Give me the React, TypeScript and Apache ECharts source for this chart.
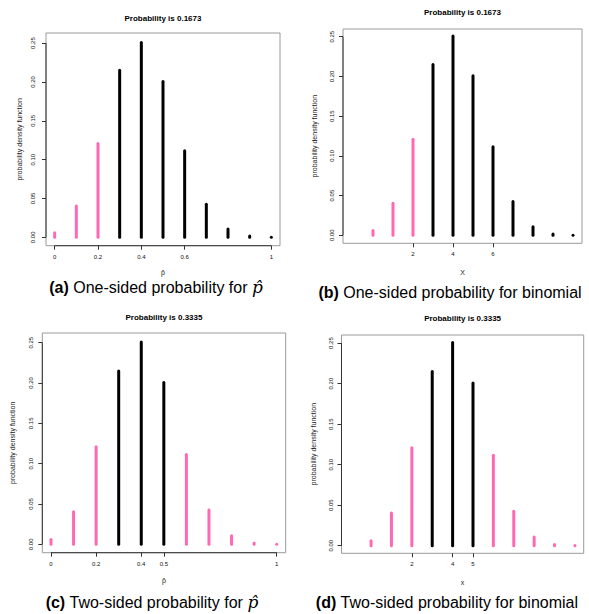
import React, { useEffect, useRef } from "react";
import * as echarts from "echarts";

// ---- data ----
const counts = [0, 1, 2, 3, 4, 5, 6, 7, 8, 9, 10];
const proportions = [0, 0.1, 0.2, 0.3, 0.4, 0.5, 0.6, 0.7, 0.8, 0.9, 1];
const probabilities = [0.006, 0.0403, 0.1209, 0.215, 0.2508, 0.2007, 0.1115, 0.0425, 0.0106, 0.0016, 0.0001];
const oneSidedTail = [true, true, true, false, false, false, false, false, false, false, false];
const twoSidedTail = [true, true, true, false, false, false, true, true, true, true, true];
const yTicks = [0, 0.05, 0.1, 0.15, 0.2, 0.25];
const xTicksA = [0, 0.2, 0.4, 0.6, 1];
const xTicksB = [2, 4, 6];
const xTicksC = [0, 0.2, 0.4, 0.5, 1];
const xTicksD = [2, 4, 5];
const panelTitles = ["Probability is 0.1673", "Probability is 0.1673", "Probability is 0.3335", "Probability is 0.3335"];
const xNames = ["p\u0302", "X", "p\u0302", "x"];
const captionTags = ["(a)", "(b)", "(c)", "(d)"];
const captionTexts = [" One-sided probability for ", " One-sided probability for binomial", " Two-sided probability for ", " Two-sided probability for binomial"];
const captionHat = [true, false, true, false];

const PINK = "#ff69b4";
const FONT = "Liberation Sans";

const panels = [
  { xs: proportions, tail: oneSidedTail, xTicks: xTicksA, darkX: true, left: 46, top: 33, width: 234, height: 212.7, xMin: -0.04, xMax: 1.04, yMin: -0.0108, yMax: 0.263, titleY: 18, capX: 156, capY: 287, yNameGap: 23, yLabMargin: 10, xNameGap: 23 },
  { xs: counts, tail: oneSidedTail, xTicks: xTicksB, darkX: false, left: 343, top: 29, width: 239, height: 214.3, xMin: -1.5, xMax: 10.45, yMin: -0.0101, yMax: 0.2597, titleY: 12, capX: 450, capY: 292, yNameGap: 25, yLabMargin: 8, xNameGap: 26 },
  { xs: proportions, tail: twoSidedTail, xTicks: xTicksC, darkX: true, left: 42.3, top: 333, width: 243.4, height: 219.7, xMin: -0.0385, xMax: 1.04, yMin: -0.0104, yMax: 0.262, titleY: 317, capX: 152, capY: 602, yNameGap: 26, yLabMargin: 8, xNameGap: 24 },
  { xs: counts, tail: twoSidedTail, xTicks: xTicksD, darkX: false, left: 341.5, top: 335, width: 242.2, height: 218.3, xMin: -1.45, xMax: 10.43, yMin: -0.0094, yMax: 0.26, titleY: 318, capX: 447, capY: 602, yNameGap: 25, yLabMargin: 8, xNameGap: 26 },
];

export default function App() {
  const ref = useRef<HTMLDivElement>(null);
  useEffect(() => {
    if (!ref.current) return;
    const chart = echarts.init(ref.current, undefined, { renderer: "svg" });
    const grid: any[] = [];
    const xAxis: any[] = [];
    const yAxis: any[] = [];
    const series: any[] = [];
    const graphic: any[] = [];
    panels.forEach((p, i) => {
      grid.push({ left: p.left, top: p.top, width: p.width, height: p.height, show: true, borderColor: "#9a9a9a", borderWidth: 1, backgroundColor: "transparent" });
      xAxis.push({
        gridIndex: i, type: "value", min: p.xMin, max: p.xMax, position: "bottom",
        axisLine: { show: false, onZero: false }, splitLine: { show: false },
        axisTick: { show: true, length: 4, customValues: p.xTicks, lineStyle: { color: "#333", width: 1 } },
        axisLabel: { customValues: p.xTicks, formatter: (v: number) => String(v), fontSize: 6, margin: 8, color: "#111", fontFamily: FONT },
        name: xNames[i], nameLocation: "middle", nameGap: p.xNameGap,
        nameTextStyle: { fontSize: 7, color: "#222", fontFamily: FONT },
      });
      yAxis.push({
        gridIndex: i, type: "value", min: p.yMin, max: p.yMax, position: "left",
        axisLine: { show: false, onZero: false }, splitLine: { show: false },
        axisTick: { show: true, length: 4, customValues: yTicks, lineStyle: { color: "#333", width: 1 } },
        axisLabel: { customValues: yTicks, rotate: 90, formatter: (v: number) => v.toFixed(2), fontSize: 6, margin: p.yLabMargin, color: "#111", fontFamily: FONT },
        name: "probability density function", nameLocation: "middle", nameRotate: 90, nameGap: p.yNameGap,
        nameTextStyle: { fontSize: 7, color: "#222", fontFamily: FONT },
      });
      // probability spikes
      series.push({
        type: "custom", xAxisIndex: i, yAxisIndex: i, silent: true,
        data: p.xs.map((x, k) => [x, probabilities[k], p.tail[k] ? 1 : 0]),
        renderItem: (params: any, api: any) => {
          const x = api.value(0);
          const y = api.value(1);
          const p0 = api.coord([x, 0]);
          const p1 = api.coord([x, y]);
          return {
            type: "line",
            shape: { x1: p0[0], y1: p0[1], x2: p1[0], y2: p1[1] },
            style: { stroke: api.value(2) ? PINK : "#000", lineWidth: 3, lineCap: "round" },
          };
        },
      });
      // R-style axis lines spanning first to last tick
      const xt = p.xTicks;
      series.push({
        type: "custom", xAxisIndex: i, yAxisIndex: i, silent: true,
        data: [[xt[0], yTicks[0]]],
        renderItem: (params: any, api: any) => {
          const a0 = api.coord([xt[0], p.yMin]);
          const a1 = api.coord([xt[xt.length - 1], p.yMin]);
          const b0 = api.coord([p.xMin, yTicks[0]]);
          const b1 = api.coord([p.xMin, yTicks[yTicks.length - 1]]);
          const children: any[] = [
            { type: "line", shape: { x1: b0[0], y1: b0[1], x2: b1[0], y2: b1[1] }, style: { stroke: "#333", lineWidth: 1 } },
          ];
          if (p.darkX) {
            children.push({ type: "line", shape: { x1: a0[0], y1: a0[1], x2: a1[0], y2: a1[1] }, style: { stroke: "#333", lineWidth: 1 } });
          }
          return { type: "group", children };
        },
      });
      graphic.push({
        type: "text", x: p.left + p.width / 2, y: p.titleY,
        style: { text: panelTitles[i], font: `bold 8px "${FONT}"`, fill: "#000", align: "center", verticalAlign: "middle", textAlign: "center", textVerticalAlign: "middle" },
      });
      const capText = `{b|${captionTags[i]}}{n|${captionTexts[i]}}` + (captionHat[i] ? `{p|p\u0302}` : "");
      graphic.push({
        type: "text", x: p.capX, y: p.capY,
        style: {
          text: capText, fill: "#000", align: "center", verticalAlign: "middle", textAlign: "center", textVerticalAlign: "middle",
          font: `16px "${FONT}"`,
          rich: {
            b: { fontWeight: "bold", fontSize: 16, fontFamily: FONT, fill: "#000" },
            n: { fontSize: 16, fontFamily: FONT, fill: "#000" },
            p: { fontSize: 17, fontStyle: "italic", fontFamily: "DejaVu Serif", fill: "#000" },
          },
        },
      });
    });
    chart.setOption({
      animation: false,
      textStyle: { fontFamily: FONT },
      grid, xAxis, yAxis, series, graphic,
    });
    return () => chart.dispose();
  }, []);
  return <div ref={ref} style={{ position: "absolute", left: 0, top: 0, width: 589, height: 614, background: "#fff" }} />;
}
